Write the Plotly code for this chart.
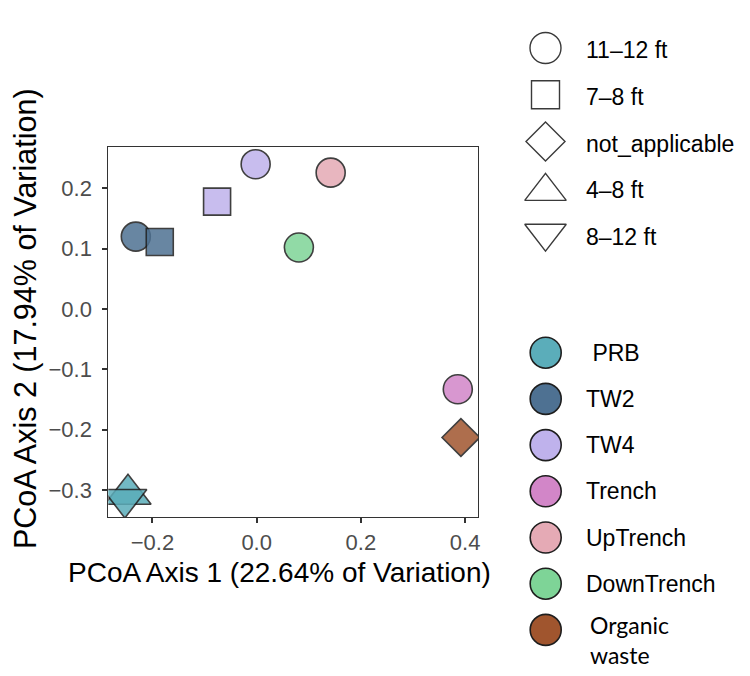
import plotly.graph_objects as go

# ---------------- data ----------------
sites = ["PRB", "PRB", "TW2", "TW2", "TW4", "TW4", "Trench", "UpTrench", "DownTrench", "Organic waste"]
depths = ["4–8 ft", "8–12 ft", "11–12 ft", "7–8 ft", "11–12 ft", "7–8 ft",
          "11–12 ft", "11–12 ft", "11–12 ft", "not_applicable"]
pc1 = [-0.247, -0.253, -0.232, -0.186, -0.002, -0.076, 0.386, 0.142, 0.081, 0.392]
pc2 = [-0.307, -0.315, 0.120, 0.111, 0.240, 0.178, -0.133, 0.226, 0.102, -0.213]

depth_levels = ["11–12 ft", "7–8 ft", "not_applicable", "4–8 ft", "8–12 ft"]
site_levels = ["PRB", "TW2", "TW4", "Trench", "UpTrench", "DownTrench", "Organic waste"]
site_legend_labels = [" PRB", "TW2", "TW4", "Trench", "UpTrench", "DownTrench", "Organic<br>waste"]

x_ticks = [-0.2, 0.0, 0.2, 0.4]
y_ticks = [-0.3, -0.2, -0.1, 0.0, 0.1, 0.2]
x_title = "PCoA Axis 1 (22.64% of Variation)"
y_title = "PCoA Axis 2 (17.94% of Variation)"

# ---------------- styles ----------------
W, H = 750, 676
site_colors = {
    "PRB": "#5BADBA",
    "TW2": "#4E7192",
    "TW4": "#BFB2EC",
    "Trench": "#D286C8",
    "UpTrench": "#E5AAB5",
    "DownTrench": "#7ED497",
    "Organic waste": "#A0552E",
}
depth_symbols = {
    "11–12 ft": "circle",
    "7–8 ft": "square",
    "not_applicable": "diamond",
    "4–8 ft": "triangle-up",
    "8–12 ft": "triangle-down",
}
symbol_sizes = {"circle": 29, "square": 27, "diamond": 29, "triangle-up": 40, "triangle-down": 38}
legend_sizes = {"circle": 31, "square": 28, "diamond": 30, "triangle-up": 36, "triangle-down": 36}
OUTLINE = "#1e1e1e"
FONT = "Liberation Sans, Arial, sans-serif"

# plot panel in pixels
px_left, px_right, px_top, px_bottom = 108.3, 478.0, 147.0, 517.0
x_range = [-0.2848, 0.4248]
y_range = [-0.3448, 0.2685]

fig = go.Figure()

for s, d, x, y in zip(sites, depths, pc1, pc2):
    sym = depth_symbols[d]
    fig.add_trace(go.Scatter(
        x=[x], y=[y], mode="markers",
        marker=dict(symbol=sym, size=symbol_sizes[sym], color=site_colors[s],
                    opacity=0.85, line=dict(color=OUTLINE, width=1.6)),
        xaxis="x", yaxis="y", name=f"{s} {d}", hoverinfo="x+y+name",
    ))

# ---------------- manual legends (pixel coordinates on hidden axes) ----------------
shape_x = 545.5
shape_y0, shape_step = 48.0, 46.8
shape_marker_offsets = {"circle": 0, "square": 0, "diamond": 0, "triangle-up": 3, "triangle-down": -2}
for i, d in enumerate(depth_levels):
    sym = depth_symbols[d]
    cy = shape_y0 + i * shape_step + shape_marker_offsets[sym]
    fig.add_trace(go.Scatter(
        x=[shape_x], y=[cy], mode="markers", xaxis="x2", yaxis="y2",
        marker=dict(symbol=sym, size=legend_sizes[sym], color="white",
                    line=dict(color="#3a3a3a", width=1.4)),
        cliponaxis=False, hoverinfo="skip", showlegend=False,
    ))
    fig.add_annotation(x=584 / W, y=1 - (shape_y0 + 2 + i * shape_step) / H,
                       xref="paper", yref="paper", text=d, showarrow=False,
                       xanchor="left", yanchor="middle",
                       font=dict(family=FONT, size=23, color="black"))

site_x = 545.7
site_y0, site_step = 352.7, 46.2
for i, (s, lab) in enumerate(zip(site_levels, site_legend_labels)):
    cy = site_y0 + i * site_step
    fig.add_trace(go.Scatter(
        x=[site_x], y=[cy], mode="markers", xaxis="x2", yaxis="y2",
        marker=dict(symbol="circle", size=31, color=site_colors[s],
                    line=dict(color=OUTLINE, width=1.6)),
        cliponaxis=False, hoverinfo="skip", showlegend=False,
    ))
    if "<br>" in lab:
        fig.add_annotation(x=588 / W, y=1 - (cy + 10) / H, xref="paper", yref="paper",
                           text=lab, showarrow=False, xanchor="left", yanchor="middle",
                           align="left",
                           font=dict(family="Lato, sans-serif", size=23, color="black"))
    else:
        fig.add_annotation(x=584 / W, y=1 - cy / H, xref="paper", yref="paper",
                           text=lab, showarrow=False, xanchor="left", yanchor="middle",
                           font=dict(family=FONT, size=23, color="black"))

# ---------------- axis titles ----------------
fig.add_annotation(x=279 / W, y=1 - 572 / H, xref="paper", yref="paper", text=x_title,
                   showarrow=False, xanchor="center", yanchor="middle",
                   font=dict(family=FONT, size=28, color="black"))
fig.add_annotation(x=25 / W, y=1 - 319 / H, xref="paper", yref="paper", text=y_title,
                   showarrow=False, xanchor="center", yanchor="middle", textangle=-90,
                   font=dict(family=FONT, size=30.5, color="black"))

axis_common = dict(showgrid=False, zeroline=False, showline=True, mirror=True,
                   linecolor="#333333", linewidth=1, ticks="outside", ticklen=5,
                   tickwidth=1.5, tickcolor="#333333", automargin=False,
                   tickfont=dict(family=FONT, size=22, color="#4d4d4d"))

fig.update_layout(
    width=W, height=H, autosize=False, template="none",
    paper_bgcolor="white", plot_bgcolor="rgba(0,0,0,0)", showlegend=False,
    margin=dict(l=0, r=0, t=0, b=0, pad=0),
    font=dict(family=FONT),
    xaxis=dict(domain=[px_left / W, px_right / W], range=x_range, anchor="y",
               tickvals=x_ticks, ticktext=[("−" if v < 0 else "") + f"{abs(v):.1f}" for v in x_ticks],
               ticklabelstandoff=1, **axis_common),
    yaxis=dict(domain=[1 - px_bottom / H, 1 - px_top / H], range=y_range, anchor="x",
               tickvals=y_ticks, ticktext=[("−" if v < 0 else "") + f"{abs(v):.1f}" for v in y_ticks],
               ticklabelstandoff=6, **axis_common),
    xaxis2=dict(domain=[0, 1], range=[0, W], anchor="y2", visible=False, fixedrange=True),
    yaxis2=dict(domain=[0, 1], range=[H, 0], anchor="x2", visible=False, fixedrange=True),
)

fig.write_html("out.html")
